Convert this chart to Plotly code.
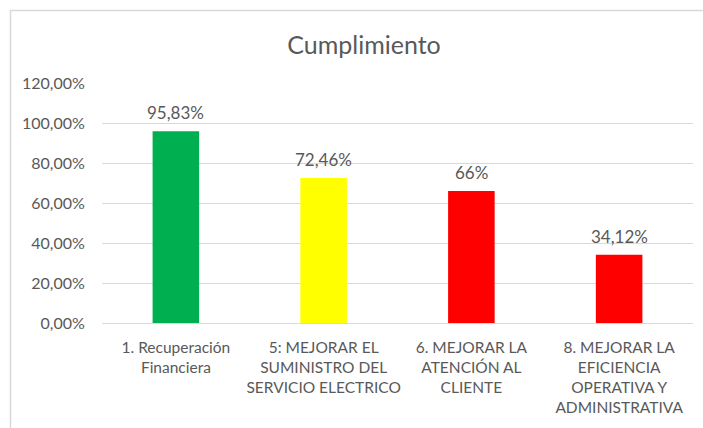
import plotly.graph_objects as go

categories = [
    "1. Recuperación<br>Financiera",
    "5: MEJORAR EL<br>SUMINISTRO DEL<br>SERVICIO ELECTRICO",
    "6. MEJORAR LA<br>ATENCIÓN AL<br>CLIENTE",
    "8. MEJORAR LA<br>EFICIENCIA<br>OPERATIVA Y<br>ADMINISTRATIVA",
]
values = [0.9583, 0.7246, 0.66, 0.3412]
value_labels = ["95,83%", "72,46%", "66%", "34,12%"]
bar_colors = ["#00B050", "#FFFF00", "#FF0000", "#FF0000"]
tick_vals = [0, 0.2, 0.4, 0.6, 0.8, 1.0, 1.2]
tick_text = ["0,00%", "20,00%", "40,00%", "60,00%", "80,00%", "100,00%", "120,00%"]

FONT = "Lato"
GREY = "#595959"
W, H = 703, 428
L, R, T, B = 102, 10, 83, 105
pw, ph = W - L - R, H - T - B

fig = go.Figure()
fig.add_trace(go.Bar(
    x=categories, y=values,
    marker=dict(color=bar_colors, line=dict(width=0)),
    hoverinfo="skip",
))

for c, v, t in zip(categories, values, value_labels):
    fig.add_annotation(x=c, y=v, text=t, showarrow=False, yanchor="bottom",
                       yshift=6, font=dict(family=FONT, size=17, color=GREY))

def px_x(p):
    return (p - L) / pw

def px_y(p):
    return (H - B - p) / ph

border = "#d9d9d9"
fig.add_shape(type="line", xref="paper", yref="paper",
              x0=px_x(10), x1=px_x(W + 5), y0=px_y(10.5), y1=px_y(10.5),
              line=dict(color=border, width=1.5))
fig.add_shape(type="line", xref="paper", yref="paper",
              x0=px_x(10.5), x1=px_x(10.5), y0=px_y(10), y1=px_y(H + 5),
              line=dict(color=border, width=1.5))

fig.update_layout(
    width=W, height=H,
    margin=dict(l=L, r=R, t=T, b=B),
    paper_bgcolor="white", plot_bgcolor="white",
    bargap=0.685,
    showlegend=False,
    title=dict(text="Cumplimiento", x=364 / W, xref="container", xanchor="center",
               y=1 - 45 / H, yref="container", yanchor="middle",
               font=dict(family=FONT, size=25, color=GREY)),
    font=dict(family=FONT, color=GREY),
)
fig.update_xaxes(
    showgrid=False, showline=True, linecolor="#d9d9d9", linewidth=1,
    tickfont=dict(family=FONT, size=15.5, color=GREY),
    ticks="outside", ticklen=10, tickcolor="rgba(0,0,0,0)",
)
fig.update_yaxes(
    range=[0, 1.2], tickvals=tick_vals, ticktext=tick_text,
    showgrid=True, gridcolor="#d9d9d9", gridwidth=1,
    zeroline=True, zerolinecolor="#d9d9d9", zerolinewidth=1,
    tickfont=dict(family=FONT, size=16, color=GREY),
    ticks="outside", ticklen=13, tickcolor="rgba(0,0,0,0)",
)

fig.write_html(
    "out.html",
    config={"displayModeBar": False},
    post_script="document.body.style.margin='0px';document.body.style.overflow='hidden';",
)
